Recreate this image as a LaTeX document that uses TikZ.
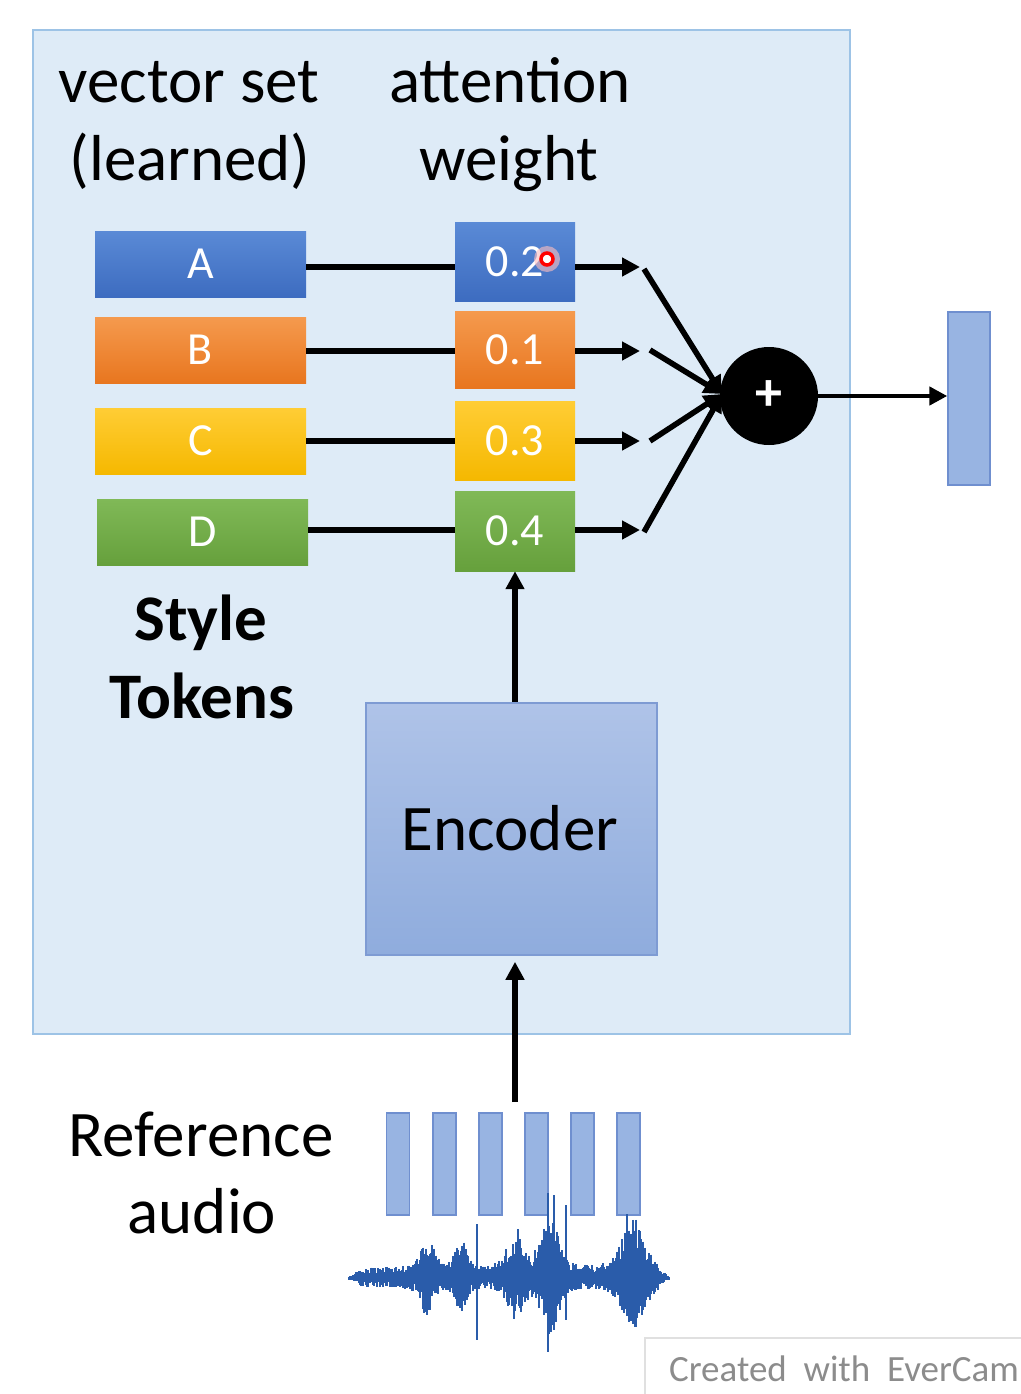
\documentclass[tikz,border=0pt]{standalone}
\usepackage{fontspec}
\setmainfont{Carlito}
\usetikzlibrary{arrows.meta}
\definecolor{panelfill}{HTML}{DEEBF7}
\definecolor{paneldraw}{HTML}{9DC3E6}
\definecolor{blueT}{HTML}{5A8AD6}\definecolor{blueB}{HTML}{3D6CC0}
\definecolor{orT}{HTML}{F59A4E}\definecolor{orB}{HTML}{E8761F}
\definecolor{yeT}{HTML}{FFCD35}\definecolor{yeB}{HTML}{F5B800}
\definecolor{grT}{HTML}{80B957}\definecolor{grB}{HTML}{66A03C}
\definecolor{encT}{HTML}{AFC3E8}\definecolor{encB}{HTML}{8FACDD}
\definecolor{encD}{HTML}{7E9BD3}
\definecolor{frameF}{HTML}{98B4E2}\definecolor{frameD}{HTML}{6F8FCF}
\definecolor{waveC}{HTML}{2A5CAA}
\newcommand\bigtxt{\fontsize{65}{78}\selectfont}
\newcommand\boxtxt{\fontsize{46}{55}\selectfont}
\pgfmathdeclarefunction{lor}{3}{\pgfmathparse{1/(1+((#1-#2)/#3)^2)}\pgfmathparse{\pgfmathresult*\pgfmathresult}}
\tikzset{
  tok/.style={rectangle, inner sep=0pt, minimum width=211pt, minimum height=66pt, text=white, font=\boxtxt},
  wbox/.style={rectangle, inner sep=0pt, minimum width=120pt, text=white, font=\boxtxt},
  conn/.style={line width=5.6pt, draw=black},
  arr/.style={conn, -{Triangle[length=18pt,width=18pt]}},
  frame/.style={rectangle, inner sep=0pt, draw=frameD, line width=1.4pt, fill=frameF, minimum width=23pt, minimum height=102pt},
  label/.style={font=\bigtxt, anchor=base, text=black},
  wave/.style={draw=waveC, line width=1.7pt}
}
\begin{document}
\begin{tikzpicture}[x=1pt,y=-1pt]
\useasboundingbox (0,0) rectangle (1020,1394);
\fill[white] (0,0) rectangle (1020,1394);
% panel
\draw[fill=panelfill, draw=paneldraw, line width=1.8pt] (33,30) rectangle (850,1034);
% headings
\node[label] (h1) at (189,103) {vector set};
\node[label] (h2) at (190,180) {(learned)};
\node[label] (h3) at (510,103) {attention};
\node[label] (h4) at (509,180) {weight};
% tokens
\node[tok, top color=blueT, bottom color=blueB] (A) at (200.5,264) {A};
\node[tok, top color=orT, bottom color=orB] (B) at (200.5,350) {B};
\node[tok, top color=yeT, bottom color=yeB] (C) at (200.5,441) {C};
\node[tok, top color=grT, bottom color=grB] (D) at (202.5,532) {D};
% weights
\node[wbox, minimum height=79pt, top color=blueT, bottom color=blueB] (w1) at (515,261.5) {0.2};
\node[wbox, minimum height=77pt, top color=orT, bottom color=orB] (w2) at (515,349.5) {0.1};
\node[wbox, minimum height=79pt, top color=yeT, bottom color=yeB] (w3) at (515,440.5) {0.3};
\node[wbox, minimum height=80pt, top color=grT, bottom color=grB] (w4) at (515,531) {0.4};
% cursor mark
\fill[red!25, opacity=0.6] (547,259) circle (13pt);
\node[circle, draw=red, line width=3.5pt, fill=white, minimum size=12pt, inner sep=0pt] (cursor) at (547,259) {};
% style tokens label
\node[label, font=\bigtxt\bfseries] (s1) at (201,640) {Style};
\node[label, font=\bigtxt\bfseries] (s2) at (202,718) {Tokens};
% token -> weight
\draw[conn] (A.east |- 0,267) -- (w1.west |- 0,267);
\draw[conn] (B.east |- 0,351) -- (w2.west |- 0,351);
\draw[conn] (C.east |- 0,441) -- (w3.west |- 0,441);
\draw[conn] (D.east |- 0,530) -- (w4.west |- 0,530);
% weight -> arrows
\coordinate (p1) at (640,267);
\coordinate (p2) at (640,351);
\coordinate (p3) at (640,441);
\coordinate (p4) at (640,530);
\draw[arr] (w1.east |- p1) -- (p1);
\draw[arr] (w2.east |- p2) -- (p2);
\draw[arr] (w3.east |- p3) -- (p3);
\draw[arr] (w4.east |- p4) -- (p4);
% sum node
\node[circle, fill=black, minimum size=98pt, inner sep=0pt, text=white, font=\fontsize{54}{60}\selectfont\bfseries] (plus) at (769,396) {+};
\coordinate (m) at (722,394);
\coordinate (q1) at (644,269);
\coordinate (q2) at (650,350);
\coordinate (q3) at (650,441);
\coordinate (q4) at (644,532);
\draw[arr] (q1) -- (m);
\draw[arr] (q2) -- (m);
\draw[arr] (q3) -- (m);
\draw[arr] (q4) -- (m);
% output
\node[frame, minimum width=42pt, minimum height=173pt] (out) at (969,398.5) {};
\draw[arr, line width=4.6pt] (plus.east |- 0,396) -- (out.west |- 0,396);
% encoder
\node[rectangle, inner sep=0pt, minimum width=291pt, minimum height=252pt, top color=encT, bottom color=encB, draw=encD, line width=1.6pt] (enc) at (511.5,829) {};
\node[label] (enclab) at (510,850) {Encoder};
\draw[arr] (enc.north -| w4) -- (w4.south);
\coordinate (audtop) at (515,1102);
\draw[arr, shorten >=6pt] (audtop) -- (enc.south -| audtop);
% reference audio
\node[label] (r1) at (201,1156) {Reference};
\node[label] (r2) at (202,1233) {audio};
\foreach \i/\xx in {1/398,2/444.5,3/490.5,4/536.5,5/582.5,6/628.5}{
  \node[frame] (f\i) at (\xx,1164) {};
}
% waveform
\pgfmathsetseed{17}
\draw[wave, line width=3pt] (348,1278) -- (670,1278);
\foreach \x in {349,350,...,669}{
  \pgfmathsetmacro\env{(11 + 36*lor(\x,427,11) + 32*lor(\x,461,9) + 40*lor(\x,515,13) + 58*lor(\x,550,15) + 50*lor(\x,633,19))*min(1,(\x-347)/16)*min(1,(671-\x)/16)}
  \pgfmathsetmacro\up{\env*(0.35+0.65*rnd)}
  \pgfmathsetmacro\dn{\env*0.85*(0.35+0.65*rnd)}
  \draw[wave] (\x,{1278-\up}) -- (\x,{1278+\dn});
}
\draw[wave, line width=2pt] (477,1224) -- (477,1340);
\draw[wave, line width=2pt] (548,1193) -- (548,1352);
\draw[wave, line width=2pt] (554,1195) -- (554,1330);
\draw[wave, line width=2pt] (566,1205) -- (566,1320);
\draw[wave, line width=2pt] (627,1214) -- (627,1300);
% watermark
\draw[draw=black!12, fill=white, line width=1.2pt] (645,1338) rectangle (1024,1400);
\node[text=black!45, font=\fontsize{37}{44}\selectfont] (wm) at (844,1369) {Created\ \ with\ \ EverCam};
\end{tikzpicture}
\end{document}
